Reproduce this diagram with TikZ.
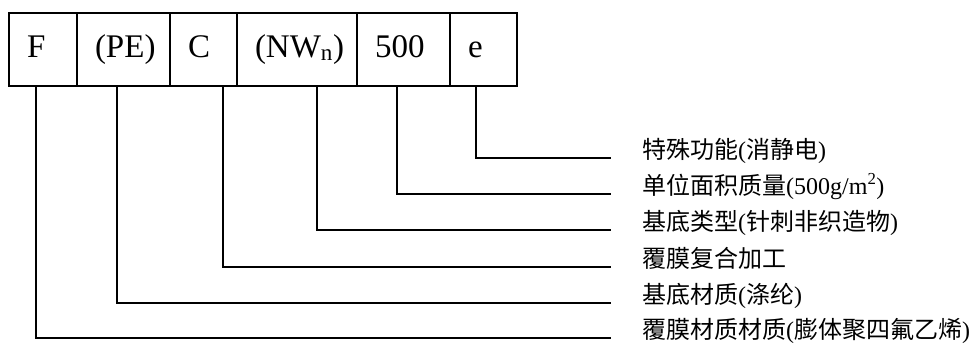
\documentclass[tikz,border=0pt]{standalone}
\usepackage{fontspec}
\setmainfont{Liberation Serif}
\newfontfamily\cjk{Noto Sans CJK SC}
\newcommand{\zh}[1]{{\cjk #1}}
\tikzset{
  cell/.style={draw, line width=1.2pt, anchor=north west, outer sep=0pt,
    inner xsep=18pt, minimum height=73pt, text height=24pt, text depth=9pt,
    align=left, font=\fontsize{33}{33}\selectfont},
  tag/.style={anchor=base west, inner sep=0pt, font=\fontsize{24}{24}\selectfont},
  lead/.style={line width=1.2pt}
}
\begin{document}
\begin{tikzpicture}[x=1pt, y=-1pt]
	\useasboundingbox (0,0) rectangle (973,354);
	% code boxes
	\node [cell, text width=32pt] (0) at (9, 13) {F};
	\node [cell, text width=57pt] (1) at (77, 13) {(PE)};
	\node [cell, text width=31pt] (2) at (170, 13) {C};
	\node [cell, text width=84pt] (3) at (237, 13) {(NW\textsubscript{n})};
	\node [cell, text width=57pt] (4) at (357, 13) {500};
	\node [cell, text width=31pt] (5) at (450, 13) {e};
	% meanings
	\node [tag] (10) at (642, 158) {\zh{特殊功能}(\zh{消静电})};
	\node [tag] (11) at (642, 194) {\zh{单位面积质量}(500g/m\textsuperscript{2})};
	\node [tag] (12) at (642, 230) {\zh{基底类型}(\zh{针刺非织造物})};
	\node [tag] (13) at (642, 267) {\zh{覆膜复合加工}};
	\node [tag] (14) at (642, 303) {\zh{基底材质}(\zh{涤纶})};
	\node [tag] (15) at (642, 338) {\zh{覆膜材质材质}(\zh{膨体聚四氟乙烯})};
	% edges
	\foreach \cel/\dx/\tg in {0/27/15, 1/40/14, 2/53/13, 3/80/12, 4/40/11, 5/26/10}
		\draw [lead] ([xshift=\dx pt]\cel.south west) |- ([xshift=-31pt]\tg.base west);
\end{tikzpicture}
\end{document}
